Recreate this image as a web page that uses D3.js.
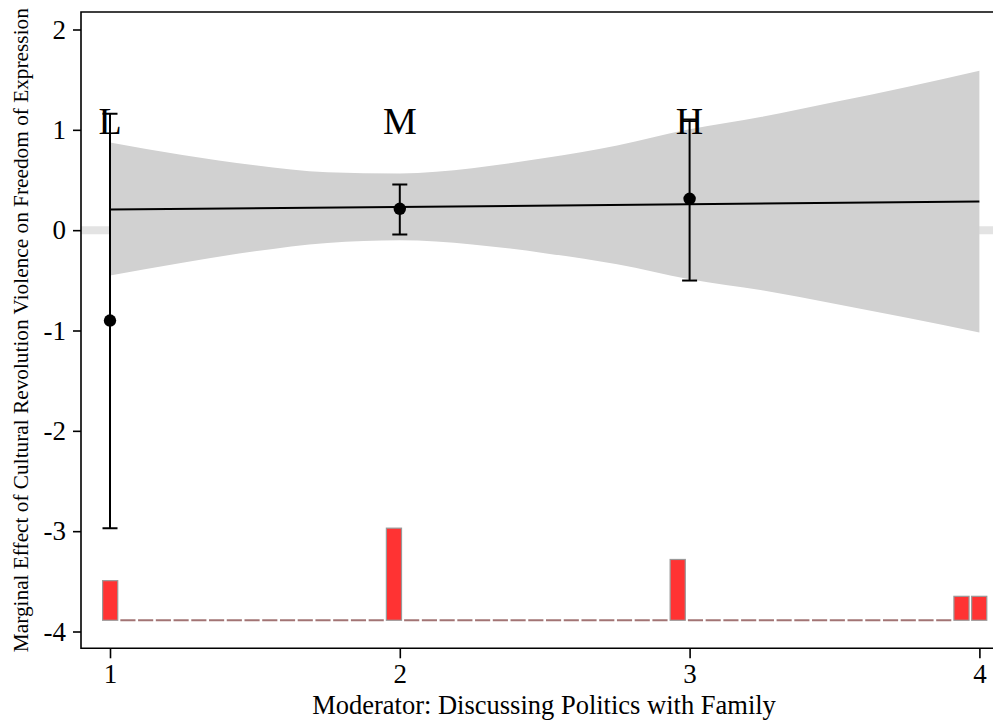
<!DOCTYPE html>
<html>
<head>
<meta charset="utf-8">
<script src="https://cdn.jsdelivr.net/npm/d3@7/dist/d3.min.js"></script>
<style>
  html, body { margin: 0; padding: 0; background: #ffffff; }
  svg { display: block; }
  text { font-family: "Liberation Serif", "Times New Roman", serif; fill: #000; }
</style>
</head>
<body>
<svg id="chart" width="993" height="724"></svg>
<script>
// ---------------- data ----------------
const xTicks = [1, 2, 3, 4];
const yTicks = [-4, -3, -2, -1, 0, 1, 2];

// confidence band of the linear marginal effect
const bandX     = [1.00, 1.25, 1.50, 1.75, 2.00, 2.25, 2.50, 2.75, 3.00, 3.25, 3.50, 3.75, 4.00];
const bandUpper = [0.873, 0.749, 0.646, 0.577, 0.565, 0.618, 0.719, 0.844, 1.005, 1.130, 1.277, 1.428, 1.590];
const bandLower = [-0.452, -0.325, -0.210, -0.127, -0.101, -0.142, -0.229, -0.340, -0.489, -0.600, -0.733, -0.872, -1.020];

// linear marginal effect line
const lineX = [1, 4];
const lineY = [0.205, 0.285];

// binning estimates
const binLabels = ["L", "M", "H"];
const binX      = [1, 2, 3];
const binEst    = [-0.901, 0.213, 0.313];
const binLow    = [-2.970, -0.043, -0.502];
const binHigh   = [1.160, 0.456, 1.102];

// histogram of the moderator (50 bins from 0.97 to 4.03)
const histStart = 0.97;
const histEnd = 4.03;
const histCounts = [
  43, 0, 0, 0, 0, 0, 0, 0, 0, 0, 0, 0, 0, 0, 0, 0,
  100, 0, 0, 0, 0, 0, 0, 0, 0, 0, 0, 0, 0, 0, 0, 0,
  66, 0, 0, 0, 0, 0, 0, 0, 0, 0, 0, 0, 0, 0, 0, 0,
  26, 26
];
const histBase = -3.888;
const histMaxHeight = 0.918;

const xTitle = "Moderator: Discussing Politics with Family";
const yTitle = "Marginal Effect of Cultural Revolution Violence on Freedom of Expression";

// ---------------- layout ----------------
const svg = d3.select("#chart");
const pL = 81, pT = 12, pB = 648.3, pR = 995;

const x = d3.scaleLinear().domain([1, 4]).range([110, 979.4]);
const y = d3.scaleLinear().domain([-4, 2]).range([631.5, 29.5]);
const h = d3.scaleLinear().domain([0, d3.max(histCounts)]).range([0, histMaxHeight]);

svg.append("defs").append("clipPath").attr("id", "plotclip")
  .append("rect").attr("x", pL).attr("y", pT).attr("width", pR - pL).attr("height", pB - pT);

const g = svg.append("g").attr("clip-path", "url(#plotclip)");

// zero reference line
g.append("line")
  .attr("x1", pL).attr("x2", pR)
  .attr("y1", y(0)).attr("y2", y(0))
  .attr("stroke", "#e3e3e3").attr("stroke-width", 8);

// confidence band
const bandData = bandX.map((d, i) => ({ x: d, lo: bandLower[i], hi: bandUpper[i] }));
g.append("path")
  .datum(bandData)
  .attr("d", d3.area().x(d => x(d.x)).y0(d => y(d.lo)).y1(d => y(d.hi)).curve(d3.curveMonotoneX))
  .attr("fill", "#d1d1d1");

// histogram
const binW = (histEnd - histStart) / histCounts.length;
const hist = histCounts.map((c, i) => ({ x0: histStart + i * binW, x1: histStart + (i + 1) * binW, c }));
const inset = 1.3;
g.selectAll("rect.hist").data(hist.filter(d => d.c > 0)).enter().append("rect")
  .attr("class", "hist")
  .attr("x", d => x(d.x0) + inset)
  .attr("width", d => x(d.x1) - x(d.x0) - 2 * inset)
  .attr("y", d => y(histBase + h(d.c)))
  .attr("height", d => y(histBase) - y(histBase + h(d.c)))
  .attr("fill", "#ff3333")
  .attr("stroke", "#999999")
  .attr("stroke-width", 1.2);
g.selectAll("line.hist0").data(hist.filter(d => d.c === 0)).enter().append("line")
  .attr("class", "hist0")
  .attr("x1", d => x(d.x0) + inset)
  .attr("x2", d => x(d.x1) - inset)
  .attr("y1", y(histBase)).attr("y2", y(histBase))
  .attr("stroke", "#a27474").attr("stroke-width", 1.8);

// marginal effect line
g.append("path")
  .datum(lineX.map((d, i) => ({ x: d, y: lineY[i] })))
  .attr("d", d3.line().x(d => x(d.x)).y(d => y(d.y)))
  .attr("fill", "none").attr("stroke", "#000").attr("stroke-width", 2);

// error bars
const bins = binX.map((d, i) => ({ x: d, est: binEst[i], lo: binLow[i], hi: binHigh[i], lab: binLabels[i] }));
const capW = 7.5;
const eb = g.selectAll("g.eb").data(bins).enter().append("g").attr("class", "eb");
eb.append("line").attr("x1", d => x(d.x)).attr("x2", d => x(d.x))
  .attr("y1", d => y(d.lo)).attr("y2", d => y(d.hi))
  .attr("stroke", "#000").attr("stroke-width", 2);
eb.append("line").attr("x1", d => x(d.x) - capW).attr("x2", d => x(d.x) + capW)
  .attr("y1", d => y(d.lo)).attr("y2", d => y(d.lo))
  .attr("stroke", "#000").attr("stroke-width", 2);
eb.append("line").attr("x1", d => x(d.x) - capW).attr("x2", d => x(d.x) + capW)
  .attr("y1", d => y(d.hi)).attr("y2", d => y(d.hi))
  .attr("stroke", "#000").attr("stroke-width", 2);
eb.append("circle").attr("cx", d => x(d.x)).attr("cy", d => y(d.est)).attr("r", 6.2).attr("fill", "#000");

// L / M / H labels
svg.selectAll("text.binlab").data(bins).enter().append("text")
  .attr("class", "binlab")
  .attr("x", d => x(d.x)).attr("y", y(0.955))
  .attr("text-anchor", "middle")
  .style("font-size", "38px")
  .text(d => d.lab);

// frame
svg.append("path")
  .attr("d", `M${pR},${pT}H${pL}V${pB}H${pR}`)
  .attr("fill", "none").attr("stroke", "#000").attr("stroke-width", 1.6);

// axes
const yAxis = svg.append("g").attr("transform", `translate(${pL},0)`)
  .call(d3.axisLeft(y).tickValues(yTicks).tickSize(8).tickPadding(7).tickFormat(d3.format("d")));
const xAxis = svg.append("g").attr("transform", `translate(0,${pB})`)
  .call(d3.axisBottom(x).tickValues(xTicks).tickSize(10).tickPadding(6).tickFormat(d3.format("d")));
[yAxis, xAxis].forEach(a => {
  a.select(".domain").remove();
  a.selectAll(".tick line").attr("stroke", "#000").attr("stroke-width", 1.6);
  a.selectAll(".tick text").style("font-family", '"Liberation Serif", serif').style("font-size", "27px").attr("fill", "#000");
});
yAxis.selectAll(".tick text").text(d => d < 0 ? "-" + Math.abs(d) : d);

// titles
svg.append("text").attr("x", (pL + 993) / 2 + 7).attr("y", 713.5)
  .attr("text-anchor", "middle").style("font-size", "26.5px").text(xTitle);
svg.append("text")
  .attr("transform", `translate(21,${(pT + pB) / 2}) rotate(-90)`)
  .attr("text-anchor", "middle").attr("dy", "0.35em").style("font-size", "21.3px").text(yTitle);
</script>
</body>
</html>
